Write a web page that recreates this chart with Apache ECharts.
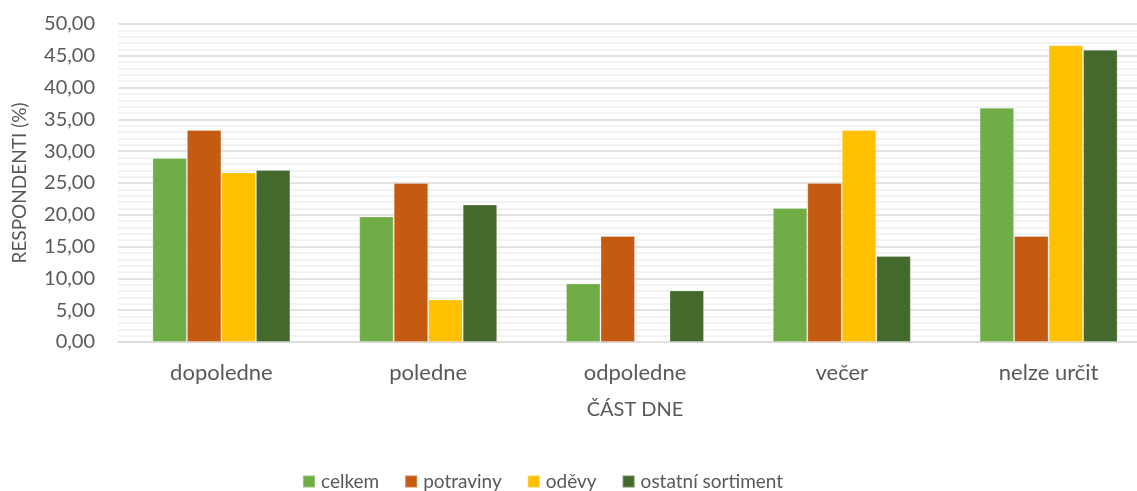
<!DOCTYPE html>
<html>
<head>
<meta charset="utf-8">
<script src="https://cdn.jsdelivr.net/npm/echarts@6/dist/echarts.min.js"></script>
<style>
  html, body { margin: 0; padding: 0; background: #fff; overflow: hidden; width: 1137px; height: 491px; }
  #chart { width: 1152px; height: 491px; }
</style>
</head>
<body>
<div id="chart"></div>
<script>
// Time of day categories
const categories = ['dopoledne', 'poledne', 'odpoledne', 'večer', 'nelze určit'];

// Share of respondents (%) per assortment group
const celkem = [28.95, 19.74, 9.21, 21.05, 36.84];
const potraviny = [33.33, 25.00, 16.67, 25.00, 16.67];
const odevy = [26.67, 6.67, 0, 33.33, 46.67];
const ostatniSortiment = [27.03, 21.62, 8.11, 13.51, 45.95];

const seriesNames = ['celkem', 'potraviny', 'oděvy', 'ostatní sortiment'];
const seriesData = [celkem, potraviny, odevy, ostatniSortiment];
const colors = ['#70AD47', '#C55A11', '#FFC000', '#44692C'];

const textColor = '#595959';
const font = 'Lato, "Open Sans", sans-serif';

const chart = echarts.init(document.getElementById('chart'), null, { renderer: 'canvas' });

chart.setOption({
  animation: false,
  color: colors,
  textStyle: { fontFamily: font, color: textColor },
  grid: { left: 118, top: 24, width: 1034, height: 318, containLabel: false },
  legend: {
    left: 297,
    top: 467,
    itemWidth: 12,
    itemHeight: 12,
    itemGap: 25,
    icon: 'rect',
    textStyle: { fontFamily: font, fontSize: 19, color: textColor, padding: [0, 0, 0, 1] },
    data: seriesNames
  },
  xAxis: {
    type: 'category',
    data: categories,
    name: 'ČÁST DNE',
    nameLocation: 'middle',
    nameGap: 58,
    nameTextStyle: { fontFamily: font, fontSize: 20, color: textColor },
    axisLine: { show: true, lineStyle: { color: '#d9d9d9', width: 1.5 } },
    axisTick: { show: false },
    axisLabel: { fontFamily: font, fontSize: 22, color: textColor, margin: 20 }
  },
  yAxis: {
    type: 'value',
    min: 0,
    max: 50,
    interval: 5,
    name: 'RESPONDENTI (%)',
    nameLocation: 'middle',
    nameGap: 89,
    nameTextStyle: { fontFamily: font, fontSize: 19, color: textColor },
    axisLine: { show: false },
    axisTick: { show: false },
    axisLabel: {
      fontFamily: font, fontSize: 20, color: textColor, margin: 23,
      formatter: v => v.toFixed(2).replace('.', ',')
    },
    splitLine: { show: true, lineStyle: { color: '#d9d9d9', width: 1.5 } },
    minorTick: { show: false, splitNumber: 5 },
    minorSplitLine: { show: true, lineStyle: { color: '#f0f0f0', width: 1.5 } }
  },
  series: seriesNames.map((name, i) => ({
    name: name,
    type: 'bar',
    data: seriesData[i],
    barWidth: 34.5,
    barGap: '0%',
    itemStyle: { color: colors[i], borderColor: 'rgba(255,255,255,0.25)', borderWidth: 1 }
  }))
});
</script>
</body>
</html>
